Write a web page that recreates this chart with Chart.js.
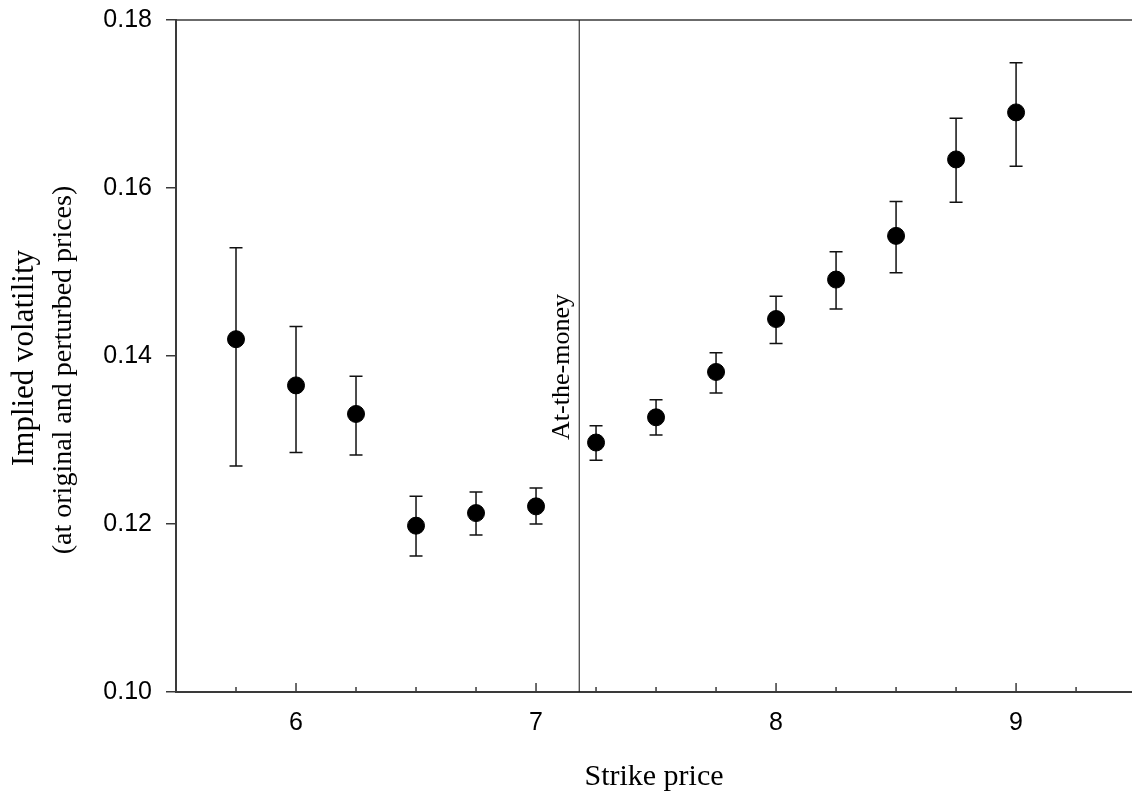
<!DOCTYPE html>
<html>
<head>
<meta charset="utf-8">
<script src="https://cdn.jsdelivr.net/npm/chart.js@4.4.1/dist/chart.umd.min.js"></script>
<style>
  html, body { margin: 0; padding: 0; background: #fff; overflow: hidden; }
  canvas { display: block; }
</style>
</head>
<body>
<canvas id="volChart" width="1132" height="798"></canvas>
<script>
const strikes = [5.75, 6, 6.25, 6.5, 6.75, 7, 7.25, 7.5, 7.75, 8, 8.25, 8.5, 8.75, 9];
const vols    = [0.1420, 0.1365, 0.1331, 0.1198, 0.1213, 0.1221, 0.1297, 0.1327, 0.1381, 0.1444, 0.1491, 0.1543, 0.1634, 0.1690];
const volHigh = [0.1529, 0.1435, 0.1376, 0.1233, 0.1238, 0.1243, 0.1317, 0.1348, 0.1404, 0.1471, 0.1524, 0.1584, 0.1683, 0.1749];
const volLow  = [0.1269, 0.1285, 0.1282, 0.1162, 0.1187, 0.1200, 0.1276, 0.1306, 0.1356, 0.1415, 0.1456, 0.1499, 0.1583, 0.1626];
const xTicks  = [5.75, 6, 6.25, 6.5, 6.75, 7, 7.25, 7.5, 7.75, 8, 8.25, 8.5, 8.75, 9, 9.25];
const yTicks  = [0.10, 0.12, 0.14, 0.16, 0.18];
const atmStrike = 7.18;

const AXIS = '#3a3a3a';
const SERIF = '"Liberation Serif", "Times New Roman", serif';
const SANS = '"Liberation Sans", Arial, sans-serif';

function noPadding(s) {
  s.paddingLeft = 0; s.paddingRight = 0; s.paddingTop = 0; s.paddingBottom = 0;
}

// error bars, frame, inward x ticks, ATM line, y title
const extras = {
  id: 'extras',
  beforeDatasetsDraw(chart) {
    const { ctx, scales: { x, y } } = chart;
    ctx.save();
    ctx.strokeStyle = '#111';
    ctx.lineWidth = 1.5;
    strikes.forEach((s, i) => {
      const px = x.getPixelForValue(s);
      const top = y.getPixelForValue(volHigh[i]);
      const bot = y.getPixelForValue(volLow[i]);
      ctx.beginPath();
      ctx.moveTo(px, top); ctx.lineTo(px, bot);
      ctx.moveTo(px - 6.5, top); ctx.lineTo(px + 6.5, top);
      ctx.moveTo(px - 6.5, bot); ctx.lineTo(px + 6.5, bot);
      ctx.stroke();
    });
    ctx.restore();
  },
  afterDraw(chart) {
    const { ctx, chartArea: a, scales: { x, y } } = chart;
    ctx.save();
    // top frame line
    ctx.strokeStyle = AXIS;
    ctx.lineWidth = 1.5;
    ctx.beginPath();
    ctx.moveTo(a.left, a.top); ctx.lineTo(a.right, a.top);
    ctx.stroke();

    // inward ticks on the x axis
    xTicks.forEach(v => {
      const px = x.getPixelForValue(v);
      const len = Number.isInteger(v) ? 9 : 5;
      ctx.beginPath();
      ctx.moveTo(px, a.bottom); ctx.lineTo(px, a.bottom - len);
      ctx.stroke();
    });

    // at-the-money line
    const ax = x.getPixelForValue(atmStrike);
    ctx.strokeStyle = '#111';
    ctx.lineWidth = 1;
    ctx.beginPath();
    ctx.moveTo(ax, a.top); ctx.lineTo(ax, a.bottom);
    ctx.stroke();

    ctx.fillStyle = '#000';
    ctx.textAlign = 'center';
    ctx.textBaseline = 'alphabetic';

    ctx.save();
    ctx.translate(ax - 10, 367);
    ctx.rotate(-Math.PI / 2);
    ctx.font = '26px ' + SERIF;
    ctx.fillText('At-the-money', 0, 0);
    ctx.restore();

    // y axis title, two sizes
    ctx.save();
    ctx.translate(33, 358);
    ctx.rotate(-Math.PI / 2);
    ctx.font = '31px ' + SERIF;
    ctx.fillText('Implied volatility', 0, 0);
    ctx.restore();

    ctx.save();
    ctx.translate(71, 370);
    ctx.rotate(-Math.PI / 2);
    ctx.font = '28px ' + SERIF;
    ctx.fillText('(at original and perturbed prices)', 0, 0);
    ctx.restore();

    ctx.restore();
  }
};

new Chart(document.getElementById('volChart'), {
  type: 'scatter',
  data: {
    datasets: [{
      label: 'Implied volatility',
      data: strikes.map((s, i) => ({ x: s, y: vols[i] })),
      backgroundColor: '#000',
      borderColor: '#000',
      pointRadius: 8.5,
      pointHoverRadius: 8.5
    }]
  },
  options: {
    responsive: false,
    animation: false,
    layout: { autoPadding: false, padding: { top: 20, right: 0, left: 0, bottom: 0 } },
    plugins: {
      legend: { display: false },
      tooltip: { enabled: false }
    },
    scales: {
      x: {
        type: 'linear',
        min: 5.5,
        max: 9.483,
        afterFit: s => { s.height = 106; noPadding(s); },
        afterBuildTicks: s => { s.ticks = xTicks.map(v => ({ value: v })); },
        grid: { display: false, drawTicks: false },
        border: { color: AXIS, width: 2 },
        ticks: {
          autoSkip: false,
          maxRotation: 0,
          padding: 16,
          color: '#000',
          font: { family: SANS, size: 25 },
          callback: v => Number.isInteger(v) ? String(v) : ''
        },
        title: {
          display: true,
          text: 'Strike price',
          color: '#000',
          font: { family: SERIF, size: 30, lineHeight: 1 },
          padding: { top: 0, bottom: 6 }
        }
      },
      y: {
        type: 'linear',
        min: 0.10,
        max: 0.18,
        afterFit: s => { s.width = 176; noPadding(s); },
        afterBuildTicks: s => { s.ticks = yTicks.map(v => ({ value: v })); },
        grid: { drawOnChartArea: false, drawTicks: true, tickLength: 10, color: AXIS, lineWidth: 1.5 },
        border: { color: AXIS, width: 2 },
        ticks: {
          padding: 14,
          color: '#000',
          font: { family: SANS, size: 25 },
          callback: v => v.toFixed(2)
        }
      }
    }
  },
  plugins: [extras]
});
</script>
</body>
</html>
